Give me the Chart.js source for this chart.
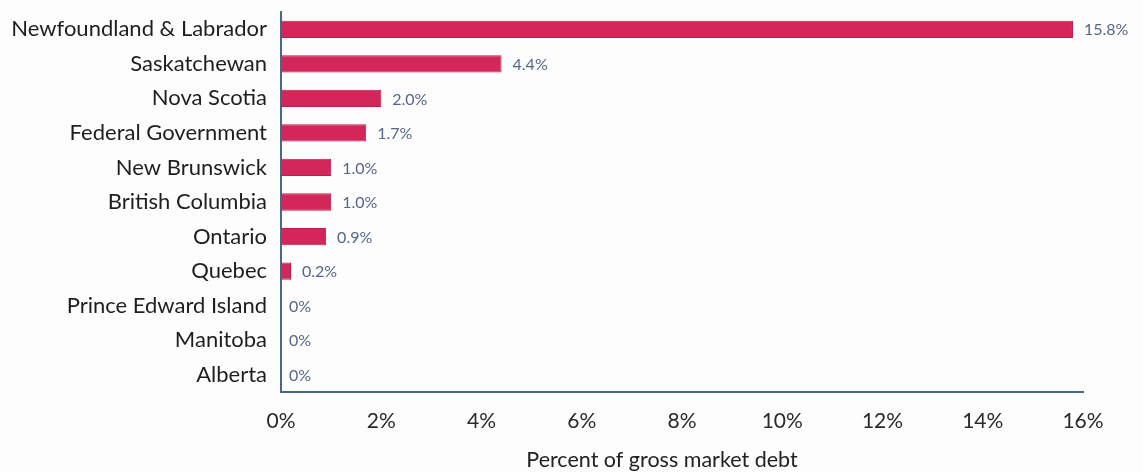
<!DOCTYPE html>
<html>
<head>
<meta charset="utf-8">
<title>Percent of gross market debt</title>
<script src="https://cdn.jsdelivr.net/npm/chart.js@4/dist/chart.umd.min.js"></script>
<style>
  html, body { margin: 0; padding: 0; background: #fdfdfd; }
  #wrap { width: 1143px; height: 472px; position: relative; }
</style>
</head>
<body>
<div id="wrap"><canvas id="chart" width="1143" height="472"></canvas></div>
<script>
// Jurisdictions, top to bottom
const categories = [
  'Newfoundland & Labrador',
  'Saskatchewan',
  'Nova Scotia',
  'Federal Government',
  'New Brunswick',
  'British Columbia',
  'Ontario',
  'Quebec',
  'Prince Edward Island',
  'Manitoba',
  'Alberta'
];

// Share of gross market debt, in percent
const debtShare = [15.8, 4.4, 2.0, 1.7, 1.0, 1.0, 0.9, 0.2, 0, 0, 0];

// Horizontal axis ticks, in percent
const xTicks = [0, 2, 4, 6, 8, 10, 12, 14, 16];

const axisTitle = 'Percent of gross market debt';

const FONT = 'Lato, "Open Sans", sans-serif';
const BAR = '#d3265a';
const AXIS = '#46698a';

function fmtValue(v) {
  return v === 0 ? '0%' : v.toFixed(1) + '%';
}

// Writes each bar's value just past its end
const valueLabels = {
  id: 'valueLabels',
  afterDatasetsDraw(chart) {
    const { ctx } = chart;
    const meta = chart.getDatasetMeta(0);
    const data = chart.data.datasets[0].data;
    ctx.save();
    ctx.font = '16px ' + FONT;
    ctx.fillStyle = '#55668a';
    ctx.textAlign = 'left';
    ctx.textBaseline = 'middle';
    meta.data.forEach((bar, i) => {
      const v = data[i];
      const gap = v === 0 ? 8 : 11;
      ctx.fillText(fmtValue(v), bar.x + gap, bar.y + 1);
    });
    ctx.restore();
  }
};

// Axis caption under the tick labels
const captionPlugin = {
  id: 'caption',
  afterDraw(chart) {
    const { ctx, chartArea } = chart;
    ctx.save();
    ctx.font = '21.5px ' + FONT;
    ctx.fillStyle = '#222';
    ctx.textAlign = 'center';
    ctx.textBaseline = 'middle';
    ctx.fillText(axisTitle, (chartArea.left + chartArea.right) / 2 - 20, 460);
    ctx.restore();
  }
};

new Chart(document.getElementById('chart'), {
  type: 'bar',
  data: {
    labels: categories,
    datasets: [{
      data: debtShare,
      backgroundColor: BAR,
      borderColor: '#b81f4c',
      borderWidth: 1,
      borderSkipped: 'left',
      barPercentage: 0.5,
      categoryPercentage: 1.0
    }]
  },
  options: {
    indexAxis: 'y',
    responsive: false,
    animation: false,
    layout: { padding: { top: 12, right: 60, bottom: 0, left: 0 } },
    plugins: {
      legend: { display: false },
      tooltip: { enabled: false }
    },
    scales: {
      x: {
        min: 0,
        max: 16,
        afterBuildTicks(scale) {
          scale.ticks = xTicks.map(v => ({ value: v }));
        },
        afterFit(scale) { scale.height = 80; },
        grid: { display: false, drawTicks: false },
        border: { display: true, color: AXIS, width: 2 },
        ticks: {
          padding: 17,
          color: '#2a2a2a',
          font: { family: FONT, size: 21 },
          callback: v => v + '%',
          maxRotation: 0
        }
      },
      y: {
        afterFit(scale) {
          scale.width = 281;
          scale.paddingTop = 0;
          scale.paddingBottom = 0;
        },
        grid: { display: false, drawTicks: false },
        border: { display: true, color: AXIS, width: 2 },
        ticks: {
          padding: 14,
          color: '#1e1e1e',
          font: { family: FONT, size: 22 }
        }
      }
    }
  },
  plugins: [valueLabels, captionPlugin]
});
</script>
</body>
</html>
